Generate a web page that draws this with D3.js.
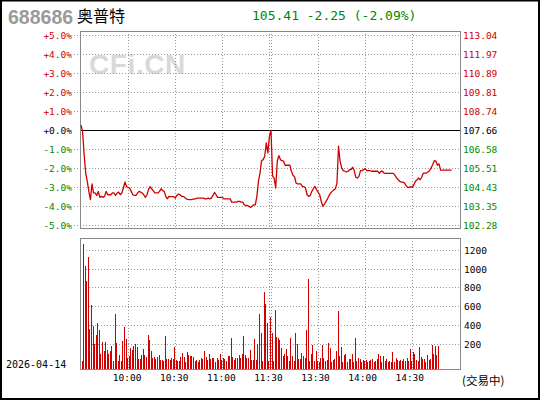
<!DOCTYPE html>
<html><head><meta charset="utf-8">
<script src="https://cdn.jsdelivr.net/npm/d3@7/dist/d3.min.js"></script>
<style>html,body{margin:0;padding:0;background:#fff;}svg{display:block;}</style>
</head><body>
<script>
// ---- data ----
const stockCode = "688686";
const stockName = "奥普特";
const quoteText = "105.41 -2.25 (-2.09%)";
const tradeDate = "2026-04-14";
const statusText = "(交易中)";
const prevClose = 107.66;
const pctTicks = [5,4,3,2,1,0,-1,-2,-3,-4,-5];
const pctLabels = ["+5.0%","+4.0%","+3.0%","+2.0%","+1.0%","+0.0%","-1.0%","-2.0%","-3.0%","-4.0%","-5.0%"];
const priceLabels = ["113.04","111.97","110.89","109.81","108.74","107.66","106.58","105.51","104.43","103.35","102.28"];
const volTicks = [1200,1000,800,600,400,200];
const timeLabels = ["10:00","10:30","11:00","11:30","13:30","14:00","14:30"];
const timeLabelIdx = [30,60,90,120,150,180,210];
const timeGridIdx = [30,60,90,120,121,151,181,211];
const totalSlots = 242;
const prices = [
107.96,107.62,106.30,105.25,104.78,104.21,103.74,104.63,104.12,104.12,
103.98,104.21,103.87,103.93,103.87,103.93,104.21,104.02,104.02,104.02,
104.12,104.12,103.98,104.12,104.17,104.02,104.12,104.40,104.74,104.49,
104.44,104.40,104.21,104.02,103.98,103.98,104.12,104.21,104.17,104.12,
104.02,103.87,104.02,104.31,104.48,104.36,104.25,104.12,104.12,104.12,
104.21,104.36,104.25,104.21,103.93,103.79,103.93,103.91,103.91,103.91,
103.83,103.98,104.06,104.02,103.93,103.93,103.87,103.79,103.76,103.74,
103.74,103.76,103.79,103.79,103.83,103.83,103.83,103.83,103.83,103.79,
103.79,103.83,103.79,103.83,103.98,104.15,104.02,103.87,103.87,103.87,
103.87,103.79,103.79,103.79,103.79,103.79,103.60,103.60,103.60,103.60,
103.64,103.64,103.60,103.60,103.45,103.41,103.41,103.36,103.30,103.38,
103.45,103.45,103.93,104.78,105.25,105.95,106.01,106.20,106.96,106.39,
107.34,107.66,105.06,104.97,104.40,105.92,106.24,106.01,105.95,105.92,
105.69,105.69,105.69,105.69,105.35,105.12,105.04,104.68,104.63,104.63,
104.63,104.49,104.48,104.40,104.02,103.93,103.98,104.21,104.36,104.49,
104.31,104.17,104.02,103.64,103.36,103.49,103.64,103.79,103.98,104.12,
104.21,104.29,104.36,104.68,106.77,105.92,105.54,105.39,105.35,105.31,
105.35,105.44,105.44,105.58,105.39,105.01,104.97,105.06,105.39,105.39,
105.44,105.50,105.39,105.39,105.39,105.35,105.35,105.35,105.35,105.35,
105.23,105.35,105.35,105.25,105.23,105.23,105.23,105.23,105.23,105.23,
105.12,104.97,104.87,104.78,104.74,104.74,104.68,104.55,104.44,104.44,
104.49,104.44,104.59,104.78,104.87,104.97,104.87,105.01,105.25,105.25,
105.25,105.31,105.39,105.54,105.73,105.95,105.92,105.69,105.77,105.41,
105.41,105.41,105.41,105.41,105.41,105.41,105.41
];
const volumes = [
218,20,1271,1036,875,1132,361,618,393,196,
296,425,350,93,221,125,221,132,93,129,
179,20,521,211,18,82,20,232,382,254,
50,75,157,136,179,200,168,43,43,82,
146,82,61,296,243,125,50,61,39,61,
82,29,29,18,286,39,39,29,50,39,
171,29,18,18,61,104,61,7,114,82,
71,71,61,18,29,7,29,50,39,125,
61,29,93,39,50,50,7,50,29,93,
29,50,39,18,71,71,264,61,29,50,
50,82,50,93,286,82,50,50,136,29,
29,254,29,200,521,318,15,757,629,425,
20,489,318,20,564,275,264,243,157,71,
93,146,71,20,264,71,20,318,200,39,
39,104,71,50,350,896,20,93,189,18,
125,18,7,50,189,50,18,29,211,157,
7,29,39,125,554,71,168,7,82,93,
7,39,39,93,7,264,18,50,39,7,
29,18,29,7,18,29,39,7,20,39,
93,71,7,71,20,39,7,18,7,114,
7,50,29,20,29,18,39,18,50,20,
146,20,114,93,29,20,168,61,39,39,
7,82,29,39,189,93,179,82,179
];

// ---- layout ----
const W = 540, H = 400;
const L = 80, R = 460;
const pTop = 31, pBot = 228;
const vTop = 238, vBot = 369;
const RED = "#d00000", GREEN = "#008800", GRID = "#999", BOX = "#888";
const mono = "'DejaVu Sans Mono', monospace";

const svg = d3.select("body").append("svg").attr("width", W).attr("height", H);

const x = d3.scaleLinear().domain([0, totalSlots]).range([81, 461]);
const yPct = d3.scaleLinear().domain([-5, 5]).range([225.5, 35.5]);
const yPrice = d3.scaleLinear().domain([prevClose * 0.95, prevClose * 1.05]).range([225.5, 35.5]);
const yVol = d3.scaleLinear().domain([200, 1200]).range([344, 250.5]);
const px = v => Math.floor(v) + 0.5;

// outer border
svg.append("rect").attr("x", 1).attr("y", 0.5).attr("width", W - 2).attr("height", H - 1.5)
  .attr("fill", "none").attr("stroke", "#000").attr("stroke-width", 2);

// watermark
svg.append("text").attr("x", 89).attr("y", 74).attr("font-family", "'Liberation Sans', Arial, sans-serif")
  .attr("font-weight", "bold").attr("font-size", 28).attr("letter-spacing", 0.6).attr("fill", "#d9d9d9").text("CFi.CN");

// header
svg.append("text").attr("x", 8).attr("y", 24).attr("font-family", "'Liberation Sans', Arial, sans-serif")
  .attr("font-weight", "bold").attr("font-size", 19.5).attr("fill", "#9a9a9a").text(stockCode);
svg.append("text").attr("x", 77).attr("y", 22).attr("font-family", "'Noto Sans CJK SC', sans-serif")
  .attr("font-size", 16).attr("fill", "#000").text(stockName);
svg.append("text").attr("x", 252).attr("y", 20).attr("font-family", mono)
  .attr("font-size", 13).attr("fill", GREEN).text(quoteText);

// ---- price panel grid ----
const g = svg.append("g").attr("shape-rendering", "crispEdges");
pctTicks.forEach((p, i) => {
  if (p === 0) return;
  g.append("line").attr("x1", 74).attr("x2", R).attr("y1", px(yPct(p))).attr("y2", px(yPct(p)))
    .attr("stroke", GRID).attr("stroke-dasharray", "1,2");
});
timeGridIdx.forEach(t => {
  const xx = px(x(t));
  g.append("line").attr("x1", xx).attr("x2", xx).attr("y1", pTop).attr("y2", pBot)
    .attr("stroke", GRID).attr("stroke-dasharray", "1,2");
  g.append("line").attr("x1", xx).attr("x2", xx).attr("y1", vTop).attr("y2", vBot)
    .attr("stroke", GRID).attr("stroke-dasharray", "1,2");
});
volTicks.forEach(v => {
  g.append("line").attr("x1", L).attr("x2", R).attr("y1", px(yVol(v))).attr("y2", px(yVol(v)))
    .attr("stroke", GRID).attr("stroke-dasharray", "1,2");
});

// volume bars
g.append("g").selectAll("rect").data(volumes).join("rect")
  .attr("x", (d, i) => Math.round(x(i)) - 1)
  .attr("width", 1)
  .attr("y", d => Math.round(yVol(d)))
  .attr("height", d => vBot - Math.round(yVol(d)))
  .attr("fill", RED);

// zero line
g.append("line").attr("x1", L).attr("x2", R).attr("y1", px(yPct(0))).attr("y2", px(yPct(0)))
  .attr("stroke", "#000");

// boxes
g.append("rect").attr("x", L + 0.5).attr("y", pTop + 0.5).attr("width", R - L).attr("height", pBot - pTop)
  .attr("fill", "none").attr("stroke", BOX);
g.append("rect").attr("x", L + 0.5).attr("y", vTop + 0.5).attr("width", R - L).attr("height", vBot - vTop)
  .attr("fill", "none").attr("stroke", BOX);

// price line
const line = d3.line().x((d, i) => x(i)).y(d => yPrice(d));
svg.append("path").datum(prices).attr("d", line).attr("fill", "none")
  .attr("stroke", RED).attr("stroke-width", 1.3).attr("stroke-linejoin", "round");

// left pct labels
const colorOf = p => p > 0 ? RED : (p < 0 ? GREEN : "#000");
pctTicks.forEach((p, i) => {
  svg.append("text").attr("x", 72).attr("y", yPct(p) + 3.5).attr("text-anchor", "end")
    .attr("font-family", mono).attr("font-size", 9.5).attr("fill", colorOf(p)).text(pctLabels[i]);
  svg.append("text").attr("x", 463).attr("y", yPct(p) + 3.5)
    .attr("font-family", mono).attr("font-size", 9.5).attr("fill", colorOf(p)).text(priceLabels[i]);
});
volTicks.forEach(v => {
  svg.append("text").attr("x", 464).attr("y", yVol(v) + 3.5)
    .attr("font-family", mono).attr("font-size", 9.5).attr("fill", "#000").text(v);
});
timeLabels.forEach((t, i) => {
  svg.append("text").attr("x", x(timeLabelIdx[i]) - 1).attr("y", 381).attr("text-anchor", "middle")
    .attr("font-family", mono).attr("font-size", 9.5).attr("fill", "#000").text(t);
});
svg.append("text").attr("x", 6).attr("y", 367.5).attr("font-family", mono)
  .attr("font-size", 10).attr("fill", "#000").text(tradeDate);
svg.append("text").attr("x", 462).attr("y", 385).attr("font-family", "'Noto Sans CJK SC', sans-serif")
  .attr("font-size", 11.5).attr("fill", "#000").text(statusText);
</script>
</body></html>
